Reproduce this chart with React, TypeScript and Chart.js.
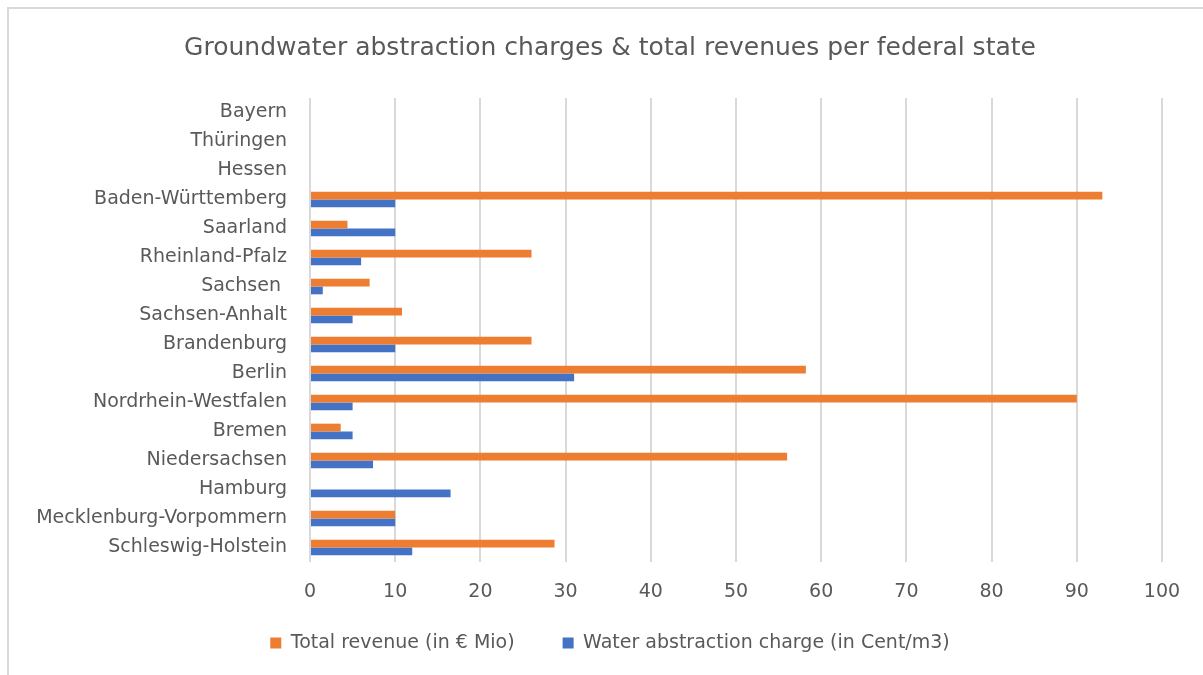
import { useEffect, useRef } from 'react';
import { Chart, registerables } from 'chart.js';

Chart.register(...registerables);

const chartTitle = 'Groundwater abstraction charges & total revenues per federal state';

const categories = [
  'Bayern',
  'Thüringen',
  'Hessen',
  'Baden-Württemberg',
  'Saarland',
  'Rheinland-Pfalz',
  'Sachsen ',
  'Sachsen-Anhalt',
  'Brandenburg',
  'Berlin',
  'Nordrhein-Westfalen',
  'Bremen',
  'Niedersachsen',
  'Hamburg',
  'Mecklenburg-Vorpommern',
  'Schleswig-Holstein',
];

const revenueLabel = 'Total revenue (in € Mio)';
const chargeLabel = 'Water abstraction charge (in Cent/m3)';

const totalRevenue = [null, null, null, 93, 4.4, 26, 7, 10.8, 26, 58.2, 90, 3.6, 56, null, 10, 28.7];
const abstractionCharge = [null, null, null, 10, 10, 6, 1.5, 5, 10, 31, 5, 5, 7.4, 16.5, 10, 12];

const xMin = 0;
const xMax = 100;
const xStep = 10;

const FONT = "'DejaVu Sans', sans-serif";
const TEXT = '#595959';

export default function App() {
  const ref = useRef<HTMLCanvasElement>(null);

  useEffect(() => {
    const chart = new Chart(ref.current!, {
      type: 'bar',
      data: {
        labels: categories,
        datasets: [
          {
            label: revenueLabel,
            data: totalRevenue,
            backgroundColor: '#ED7D31',
            borderWidth: 0,
            categoryPercentage: 0.54,
            barPercentage: 1,
          },
          {
            label: chargeLabel,
            data: abstractionCharge,
            backgroundColor: '#4472C4',
            borderWidth: 0,
            categoryPercentage: 0.54,
            barPercentage: 1,
          },
        ],
      },
      options: {
        indexAxis: 'y',
        animation: false,
        responsive: true,
        maintainAspectRatio: false,
        layout: { padding: { top: 10, left: 10, right: 0, bottom: 12.5 } },
        plugins: {
          title: {
            display: true,
            text: chartTitle,
            color: TEXT,
            font: { family: FONT, size: 25, weight: 'normal' },
            padding: { top: 23, bottom: 35 },
          },
          legend: {
            position: 'bottom',
            labels: {
              boxWidth: 11,
              boxHeight: 11,
              padding: 48,
              color: TEXT,
              font: { family: FONT, size: 19 },
            },
          },
          tooltip: { enabled: false },
        },
        scales: {
          x: {
            min: xMin,
            max: xMax,
            ticks: {
              stepSize: xStep,
              padding: 19,
              color: TEXT,
              font: { family: FONT, size: 19 },
            },
            grid: { color: '#d9d9d9', lineWidth: 2, drawTicks: false },
            border: { display: false },
            afterFit: (s: any) => {
              s.height = 23.5;
              // let the tick labels run past the (short) scale box instead of being clipped
              s._computeLabelArea = () => undefined;
            },
          },
          y: {
            ticks: { padding: 23, color: TEXT, font: { family: FONT, size: 19 } },
            grid: { display: false, drawTicks: false },
            border: { display: false },
            afterFit: (s: any) => {
              s.width = 300;
            },
          },
          y2: {
            type: 'category',
            position: 'right',
            ticks: { display: false },
            grid: { display: false, drawTicks: false },
            border: { display: false },
            afterFit: (s: any) => {
              s.width = 48;
            },
          },
        },
      } as any,
    });
    return () => chart.destroy();
  }, []);

  return (
    <div
      style={{
        position: 'fixed',
        left: 0,
        top: 0,
        width: 1203,
        height: 675,
        overflow: 'hidden',
        background: '#ffffff',
      }}
    >
      <div
        style={{
          position: 'absolute',
          left: 7,
          top: 7,
          width: 1300,
          height: 800,
          borderTop: '2px solid #d9d9d9',
          borderLeft: '2px solid #d9d9d9',
        }}
      />
      <div style={{ position: 'absolute', left: 0, top: 0, width: 1210, height: 675 }}>
        <canvas ref={ref} />
      </div>
    </div>
  );
}
